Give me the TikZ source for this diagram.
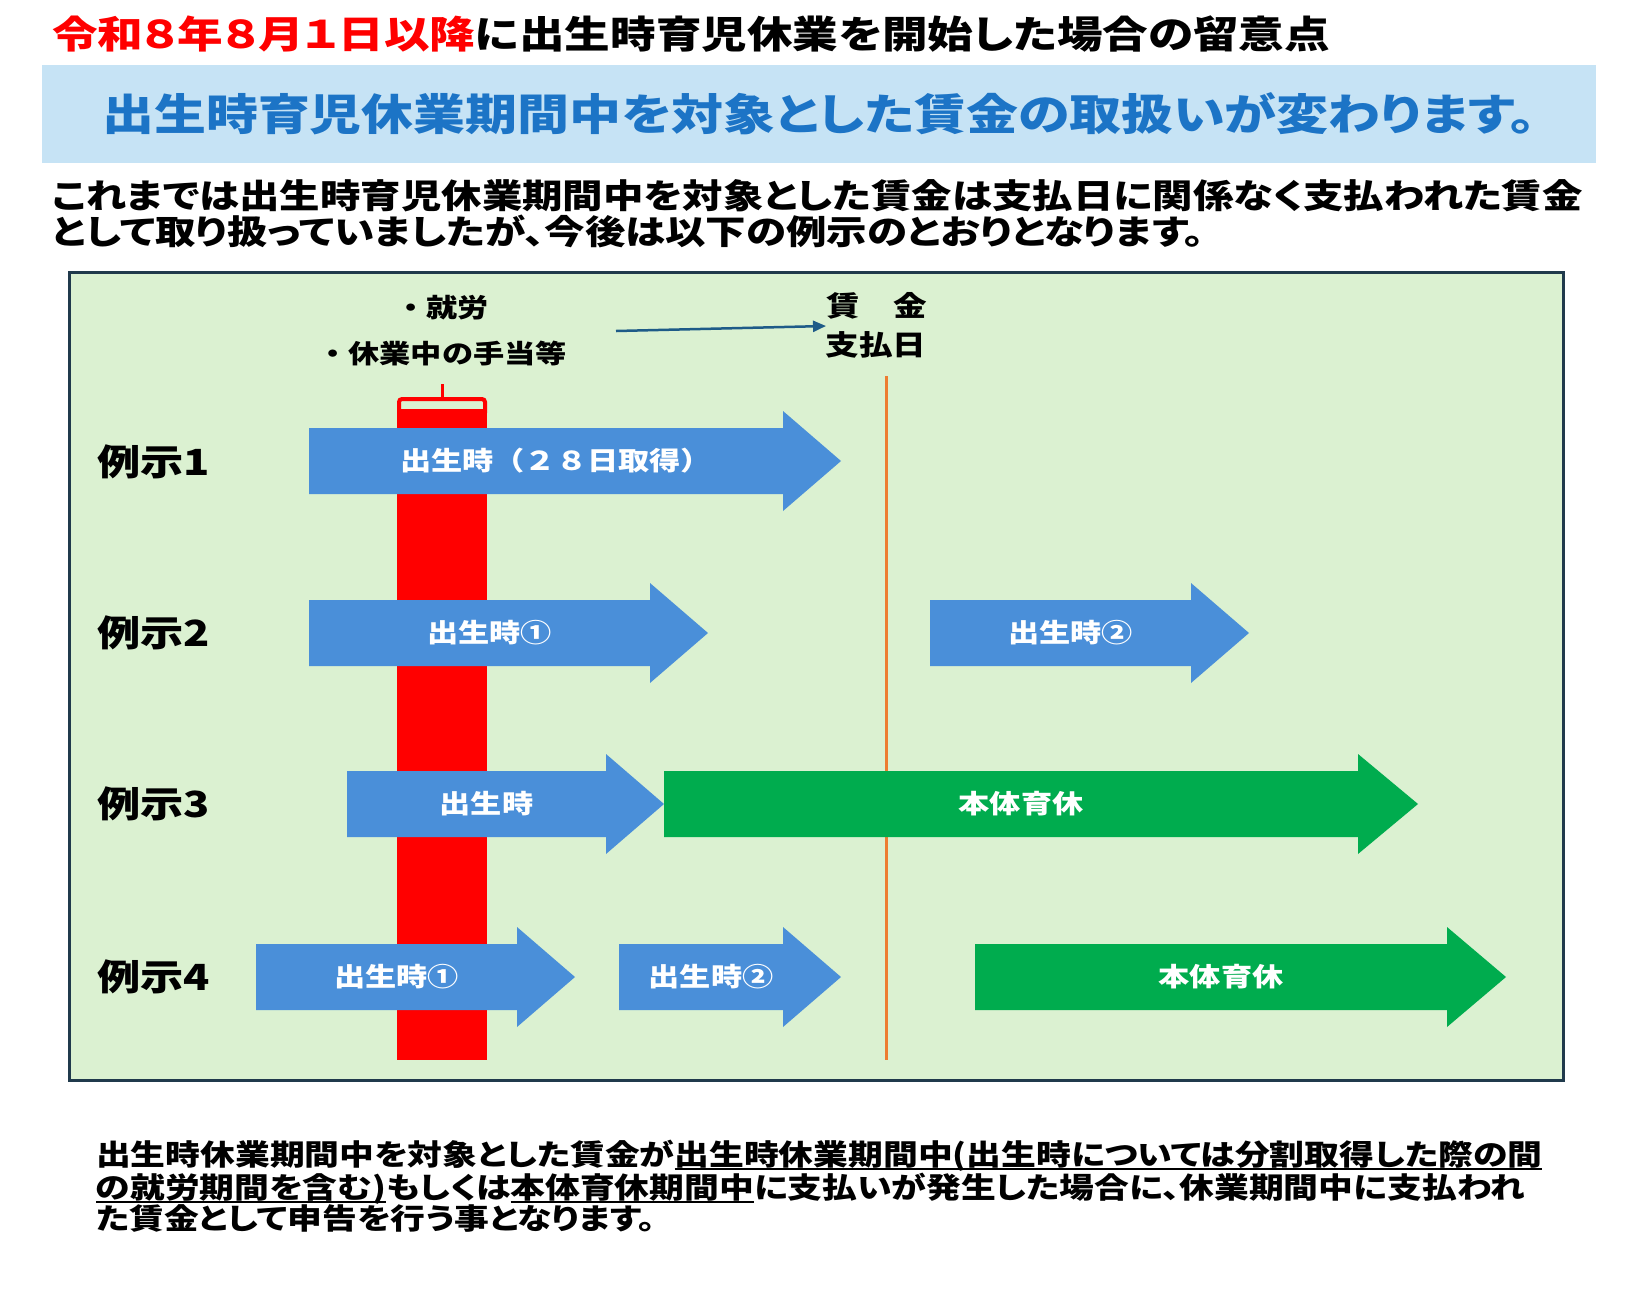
\documentclass[tikz,border=0pt]{standalone}
\usepackage{fontspec}
\usetikzlibrary{arrows.meta}
\setmainfont{Noto Sans CJK JP}
\newfontfamily\jp{Noto Sans CJK JP}[FakeStretch=1.2]
\newfontfamily\jpp{Noto Sans CJK JP}[FakeStretch=1.2,RawFeature=+palt]
\newcommand\fsz[1]{\fontsize{#1}{#1}\selectfont}
\newcommand\ulx[1]{\setbox0\hbox{#1}\rlap{\rule[-5pt]{\wd0}{1.8pt}}\box0}
\definecolor{ttlred}{HTML}{FF0000}
\definecolor{bandbg}{HTML}{C6E3F5}
\definecolor{bandtx}{HTML}{1C74C6}
\definecolor{boxbg}{HTML}{DBF1D1}
\definecolor{boxln}{HTML}{203A4C}
\definecolor{arrblue}{HTML}{4A8FD9}
\definecolor{arrgreen}{HTML}{00AC4E}
\definecolor{payline}{HTML}{ED7D31}
\definecolor{conn}{HTML}{1E5B88}
\tikzset{
  every node/.style={inner sep=0pt, outer sep=0pt},
  ttl/.style={anchor=base west, font={\jpp\bfseries\fsz{38}}},
  para/.style={anchor=base west, font={\jpp\bfseries\fsz{33.7}}},
  foot/.style={anchor=base west, font={\jpp\bfseries\fsz{29}}},
  rowlbl/.style={anchor=west, font={\jp\bfseries\fsz{36}}},
  small/.style={font={\jp\bfseries\fsz{26}}},
  paylbl/.style={font={\jp\bfseries\fsz{28}}},
  arrtext/.style={text=white, font={\jp\bfseries\fsz{26}}},
}
% #1 name, #2 left x, #3 head base x, #4 tip x, #5 centre y, #6 colour, #7 text
\newcommand\barrow[7]{%
  \fill[#6] (#2,#5-33) -- (#3,#5-33) -- (#3,#5-50) -- (#4,#5) -- (#3,#5+50) -- (#3,#5+33) -- (#2,#5+33) -- cycle;
  \node[arrtext] (#1) at ({(#2+#3)/2+10},#5) {#7};
}
\begin{document}
\begin{tikzpicture}[x=1pt,y=-1pt]
\useasboundingbox[fill=white] (0,0) rectangle (1638,1296);

% title
\node[ttl] (title) at (52,48) {\textcolor{ttlred}{令和８年８月１日以降}に出生時育児休業を開始した場合の留意点};

% band
\node[fill=bandbg, minimum width=1554pt, minimum height=98pt, text=bandtx, font={\jpp\bfseries\fsz{43.3}}] (band) at (819,114) {出生時育児休業期間中を対象とした賃金の取扱いが変わります。};

% paragraph
\node[para] (p1) at (52,208) {これまでは出生時育児休業期間中を対象とした賃金は支払日に関係なく支払われた賃金};
\node[para] (p2) at (52,244) {として取り扱っていましたが、今後は以下の例示のとおりとなります。};

% green box
\draw[fill=boxbg, draw=boxln, line width=3] (69,272) rectangle (1563,1080);

% labels at top of box
\node[small] (work) at (442,308) {・就労};
\node[small] (allow) at (442,353) {・休業中の手当等};
\node[paylbl] (pay1) at (877,306) {賃　金};
\node[paylbl] (pay2) at (876,345) {支払日};
\coordinate (cs) at (616,331);
\coordinate (ce) at (826,326);
\draw[conn, line width=2.5, -{Triangle[length=13pt,width=11pt]}] (cs) -- (ce);

% red bar
\fill[red] (397,409) rectangle (487,1060);
\draw[red, line width=4, rounded corners=3] (399,413) -- (399,399) -- (485,399) -- (485,413);
\draw[red, line width=3] (442,399) -- (442,384);

% payment day line
\draw[payline, line width=3] (886,376) -- (886,1060);

% row labels
\node[rowlbl] (r1) at (97,462) {例示1};
\node[rowlbl] (r2) at (97,633) {例示2};
\node[rowlbl] (r3) at (97,804) {例示3};
\node[rowlbl] (r4) at (97,977) {例示4};

% arrows
\barrow{a1}{309}{783}{841}{461}{arrblue}{出生時（２８日取得）}
\barrow{a2a}{309}{650}{708}{633}{arrblue}{出生時①}
\barrow{a2b}{930}{1191}{1249}{633}{arrblue}{出生時②}
\barrow{a3a}{347}{606}{664}{804}{arrblue}{出生時}
\barrow{a3b}{664}{1358}{1418}{804}{arrgreen}{本体育休}
\barrow{a4a}{256}{517}{575}{977}{arrblue}{出生時①}
\barrow{a4b}{619}{783}{841}{977}{arrblue}{出生時②}
\barrow{a4c}{975}{1447}{1506}{977}{arrgreen}{本体育休}

% footnote
\node[foot] (f1) at (96,1165) {出生時休業期間中を対象とした賃金が\ulx{出生時休業期間中(出生時については分割取得した際の間}};
\node[foot] (f2) at (96,1198) {\ulx{の就労期間を含む)}もしくは\ulx{本体育休期間中}に支払いが発生した場合に、休業期間中に支払われ};
\node[foot] (f3) at (96,1229) {た賃金として申告を行う事となります。};
\end{tikzpicture}
\end{document}
